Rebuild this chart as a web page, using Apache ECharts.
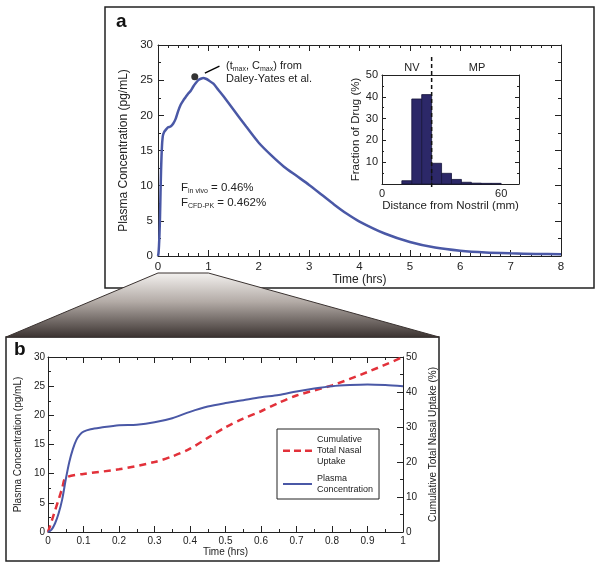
<!DOCTYPE html>
<html><head><meta charset="utf-8">
<script src="https://cdn.jsdelivr.net/npm/echarts@6/dist/echarts.min.js"></script>
<style>html,body{margin:0;padding:0;background:#fff}#c{width:600px;height:567px}</style>
</head><body><div id="c"></div>
<script>
// ---- data ----
const plasmaTime = [0,0.01,0.02,0.03,0.04,0.05,0.06,0.07,0.08,0.09,0.1,0.12,0.15,0.2,0.25,0.3,0.35,0.4,0.45,0.5,0.55,0.6,0.65,0.7,0.75,0.8,0.85,0.9,0.95,1.0,1.1,1.2,1.3,1.5,1.75,2,2.25,2.5,2.75,3,3.25,3.5,3.75,4,4.5,5,5.5,6,6.5,7,7.5,8];
const plasmaConc = [0,0.4,1.5,3.2,5.6,9.0,12.0,14.2,15.8,16.7,17.2,17.6,17.9,18.3,18.4,18.8,19.5,20.6,21.5,22.1,22.6,23.1,23.5,24.1,24.6,25.0,25.2,25.3,25.2,25.0,24.5,23.6,22.7,20.8,18.4,16.1,14.3,12.7,11.4,10.1,8.7,7.3,6.0,4.9,3.2,2.0,1.2,0.75,0.5,0.38,0.3,0.25];
const uptakeTime = [0,0.01,0.02,0.03,0.04,0.05,0.1,0.2,0.3,0.35,0.4,0.45,0.5,0.55,0.6,0.65,0.7,0.8,0.9,1.0];
const uptakePct  = [0,3,6.2,9.3,12.5,15.5,16.6,17.9,20.0,21.6,23.8,26.9,29.9,32.4,34.5,36.9,39.0,41.9,45.7,50.0];
const tmaxCmax = [0.73, 25.5];
const binStart = [10,15,20,25,30,35,40,45,50,55];
const binWidth = 5;
const drugFraction = [1.5,39,41,9.5,4.9,2.1,0.8,0.4,0.3,0.3];
const nvBoundary = 25;
const aTimeRange = [0, 8], bTimeRange = [0, 1];
const namePlasma = 'Plasma\nConcentration';
const nameUptake = 'Cumulative\nTotal Nasal\nUptake';

const FF = 'Liberation Sans, Arial, Helvetica, sans-serif';
const INK = '#222';
const BLUE = '#4a58a6';
const RED = '#e2313a';

function axLine(){ return {show:true, onZero:false, lineStyle:{color:INK, width:1}}; }
function ticks(len){ return {show:true, inside:true, length:len, lineStyle:{color:INK, width:1}}; }
function minor(n, len){ return {show:true, splitNumber:n, length:len, lineStyle:{color:INK, width:1}}; }
function lbl(size, margin, extra){ return Object.assign({show:true, color:INK, fontSize:size, fontFamily:FF, margin:margin}, extra||{}); }
const noSplit = {show:false};

const chart = echarts.init(document.getElementById('c'), null, {renderer:'canvas'});

const plasmaA = plasmaTime.map((t,i)=>[t, plasmaConc[i]]);
const plasmaB = plasmaTime.map((t,i)=>[t, plasmaConc[i]]).filter(p=>p[0] <= bTimeRange[1] + 1e-9);
const uptake = uptakeTime.map((t,i)=>[t, uptakePct[i]]);
const bins = binStart.map((s,i)=>[s, s + binWidth, drugFraction[i]]);

const iconSpan = 'M0 0h.01v.01H0zM0 12h.01v.01H0z';
const option = {
  animation:false,
  backgroundColor:'#fff',
  textStyle:{fontFamily:FF},
  grid:[
    {left:158, top:45, width:403, height:211},
    {left:382, top:75, width:137, height:109},
    {left:48, top:357, width:355, height:175}
  ],
  xAxis:[
    {gridIndex:0, type:'value', position:'bottom', min:aTimeRange[0], max:aTimeRange[1], interval:1,
     axisLine:axLine(), axisTick:ticks(6), minorTick:minor(5,3), splitLine:noSplit, minorSplitLine:noSplit,
     axisLabel:lbl(11.5,5), name:'Time (hrs)', nameLocation:'middle', nameGap:16,
     nameTextStyle:{color:INK, fontSize:12, fontFamily:FF}},
    {gridIndex:0, type:'value', position:'top', min:aTimeRange[0], max:aTimeRange[1], interval:1,
     axisLine:axLine(), axisTick:ticks(6), minorTick:minor(5,3), splitLine:noSplit, axisLabel:{show:false}},
    {gridIndex:1, type:'value', position:'bottom', min:0, max:69, interval:60,
     axisLine:axLine(), axisTick:{show:false}, splitLine:noSplit,
     axisLabel:lbl(11,4,{showMaxLabel:false}), name:'Distance from Nostril (mm)', nameLocation:'middle', nameGap:14,
     nameTextStyle:{color:INK, fontSize:11.5, fontFamily:FF}},
    {gridIndex:2, type:'value', position:'bottom', min:bTimeRange[0], max:bTimeRange[1], interval:0.1,
     axisLine:axLine(), axisTick:ticks(6), minorTick:minor(2,3), splitLine:noSplit,
     axisLabel:lbl(10,4), name:'Time (hrs)', nameLocation:'middle', nameGap:15,
     nameTextStyle:{color:INK, fontSize:10, fontFamily:FF}},
    {gridIndex:2, type:'value', position:'top', min:bTimeRange[0], max:bTimeRange[1], interval:0.1,
     axisLine:axLine(), axisTick:ticks(6), minorTick:minor(2,3), splitLine:noSplit, axisLabel:{show:false}},
    {gridIndex:1, type:'value', position:'top', min:0, max:69, interval:60,
     axisLine:axLine(), axisTick:{show:false}, splitLine:noSplit, axisLabel:{show:false}}
  ],
  yAxis:[
    {gridIndex:0, type:'value', position:'left', min:0, max:30, interval:5,
     axisLine:axLine(), axisTick:ticks(6), minorTick:minor(2,3), splitLine:noSplit,
     axisLabel:lbl(11.5,5), name:'Plasma Concentration (pg/mL)', nameLocation:'middle', nameGap:19,
     nameTextStyle:{color:INK, fontSize:12, fontFamily:FF}},
    {gridIndex:0, type:'value', position:'right', min:0, max:30, interval:5,
     axisLine:axLine(), axisTick:ticks(6), minorTick:minor(2,3), splitLine:noSplit, axisLabel:{show:false}},
    {gridIndex:1, type:'value', position:'left', min:0, max:50, interval:10,
     axisLine:axLine(), axisTick:ticks(4), minorTick:minor(2,2), splitLine:noSplit,
     axisLabel:lbl(11,4,{showMinLabel:false}), name:'Fraction of Drug (%)', nameLocation:'middle', nameGap:19,
     nameTextStyle:{color:INK, fontSize:11.5, fontFamily:FF}},
    {gridIndex:1, type:'value', position:'right', min:0, max:50, interval:10,
     axisLine:axLine(), axisTick:ticks(4), minorTick:minor(2,2), splitLine:noSplit, axisLabel:{show:false}},
    {gridIndex:2, type:'value', position:'left', min:0, max:30, interval:5,
     axisLine:axLine(), axisTick:ticks(6), minorTick:minor(2,3), splitLine:noSplit,
     axisLabel:lbl(10,3), name:'Plasma Concentration (pg/mL)', nameLocation:'middle', nameGap:18,
     nameTextStyle:{color:INK, fontSize:10, fontFamily:FF}},
    {gridIndex:2, type:'value', position:'right', min:0, max:50, interval:10,
     axisLine:axLine(), axisTick:ticks(6), minorTick:minor(2,3), splitLine:noSplit,
     axisLabel:lbl(10,3), name:'Cumulative Total Nasal Uptake (%)', nameLocation:'middle', nameGap:19,
     nameTextStyle:{color:INK, fontSize:10, fontFamily:FF}}
  ],
  legend:{
    data:[
      {name:nameUptake, icon:'path://M0 5h7v2.4H0zM11 5h7v2.4h-7zM22 5h7v2.4h-7z'+iconSpan},
      {name:namePlasma, icon:'path://M0 5h29v2H0z'+iconSpan}
    ],
    orient:'vertical', left:277, top:429,
    padding:[5,6,4,6], itemGap:6, itemWidth:29, itemHeight:12,
    borderColor:INK, borderWidth:1, backgroundColor:'#fff', selectedMode:false,
    textStyle:{fontSize:9, lineHeight:11, color:INK, fontFamily:FF}
  },
  series:[
    {type:'line', xAxisIndex:0, yAxisIndex:0, data:plasmaA, symbol:'none', smooth:0.25,
     lineStyle:{color:BLUE, width:2.5}, itemStyle:{color:BLUE}, z:3},
    {type:'scatter', xAxisIndex:0, yAxisIndex:0, data:[tmaxCmax], symbolSize:7, itemStyle:{color:'#000'}, z:4,
     markLine:{silent:true, symbol:['none','arrow'], symbolSize:[0,9], label:{show:false},
       lineStyle:{color:'#000', width:1.3, type:'solid'},
       data:[[{coord:[0.93,26.0]},{coord:[1.22,27.0]}]]}},
    {type:'custom', xAxisIndex:2, yAxisIndex:2, data:bins, encode:{x:[0,1], y:2},
     renderItem:function(params, api){
       const p0 = api.coord([api.value(0), api.value(2)]);
       const p1 = api.coord([api.value(1), 0]);
       return {type:'rect', shape:{x:p0[0], y:p0[1], width:p1[0]-p0[0], height:p1[1]-p0[1]},
               style:{fill:'#2c2868', stroke:'#15143a', lineWidth:0.8}};
     }, z:3},
    {type:'line', name:nameUptake, xAxisIndex:3, yAxisIndex:5, data:uptake, symbol:'none', smooth:0.3,
     lineStyle:{color:RED, width:2.5, type:[7,5]}, itemStyle:{color:RED}, z:3},
    {type:'line', name:namePlasma, xAxisIndex:3, yAxisIndex:4, data:plasmaB, symbol:'none', smooth:0.3,
     lineStyle:{color:BLUE, width:2}, itemStyle:{color:BLUE}, z:3},
    // empty series binding the mirror (frame) axes so they are drawn
    {type:'line', xAxisIndex:1, yAxisIndex:1, data:[], silent:true},
    {type:'line', xAxisIndex:5, yAxisIndex:3, data:[], silent:true},
    {type:'line', xAxisIndex:4, yAxisIndex:4, data:[], silent:true}
  ]
};
chart.setOption(option);

// decorations positioned through the library's scales
const xa0 = chart.convertToPixel({xAxisIndex:0}, aTimeRange[0]);
const xa1 = chart.convertToPixel({xAxisIndex:0}, bTimeRange[1]);
const xNV = chart.convertToPixel({xAxisIndex:2}, nvBoundary);
const subStyle = {fontSize:7, verticalAlign:'bottom', lineHeight:10, fontFamily:FF, fill:INK};
chart.setOption({graphic:[
  {type:'rect', shape:{x:105, y:7, width:489, height:281}, style:{fill:'none', stroke:INK, lineWidth:1.5}, z:0, silent:true},
  {type:'rect', shape:{x:6, y:337, width:433, height:224}, style:{fill:'none', stroke:INK, lineWidth:1.5}, z:0, silent:true},
  {type:'polygon', shape:{points:[[xa0,273],[xa1,273],[439,337],[6,337]]},
   style:{fill:new echarts.graphic.LinearGradient(0,0,0,1,[{offset:0,color:'#f4f2f0'},{offset:0.45,color:'#b3aba6'},{offset:1,color:'#3a3230'}]),
          stroke:'#3a3230', lineWidth:1}, z:10, silent:true},
  {type:'text', x:116, y:12, style:{text:'a', font:'bold 19px '+FF, fill:'#111'}, z:11},
  {type:'text', x:14, y:340, style:{text:'b', font:'bold 19px '+FF, fill:'#111'}, z:11},
  {type:'text', x:226, y:59, style:{text:'(t{s|max}, C{s|max}) from\nDaley-Yates et al.', fontSize:11, lineHeight:13.5, fontFamily:FF, fill:INK,
     rich:{s:subStyle}}, z:11},
  {type:'text', x:181, y:181, style:{text:'F{s|in vivo} = 0.46%', fontSize:11.5, lineHeight:14, fontFamily:FF, fill:INK, rich:{s:subStyle}}, z:11},
  {type:'text', x:181, y:196, style:{text:'F{s|CFD-PK} = 0.462%', fontSize:11.5, lineHeight:14, fontFamily:FF, fill:INK, rich:{s:subStyle}}, z:11},
  {type:'line', shape:{x1:xNV, y1:57, x2:xNV, y2:189}, style:{stroke:'#111', lineWidth:1.5, lineDash:[4,3]}, z:11},
  {type:'text', x:412, y:68, style:{text:'NV', fontSize:11, fontFamily:FF, fill:INK, align:'center', verticalAlign:'middle'}, z:11},
  {type:'text', x:477, y:68, style:{text:'MP', fontSize:11, fontFamily:FF, fill:INK, align:'center', verticalAlign:'middle'}, z:11}
]});
</script>
</body></html>
